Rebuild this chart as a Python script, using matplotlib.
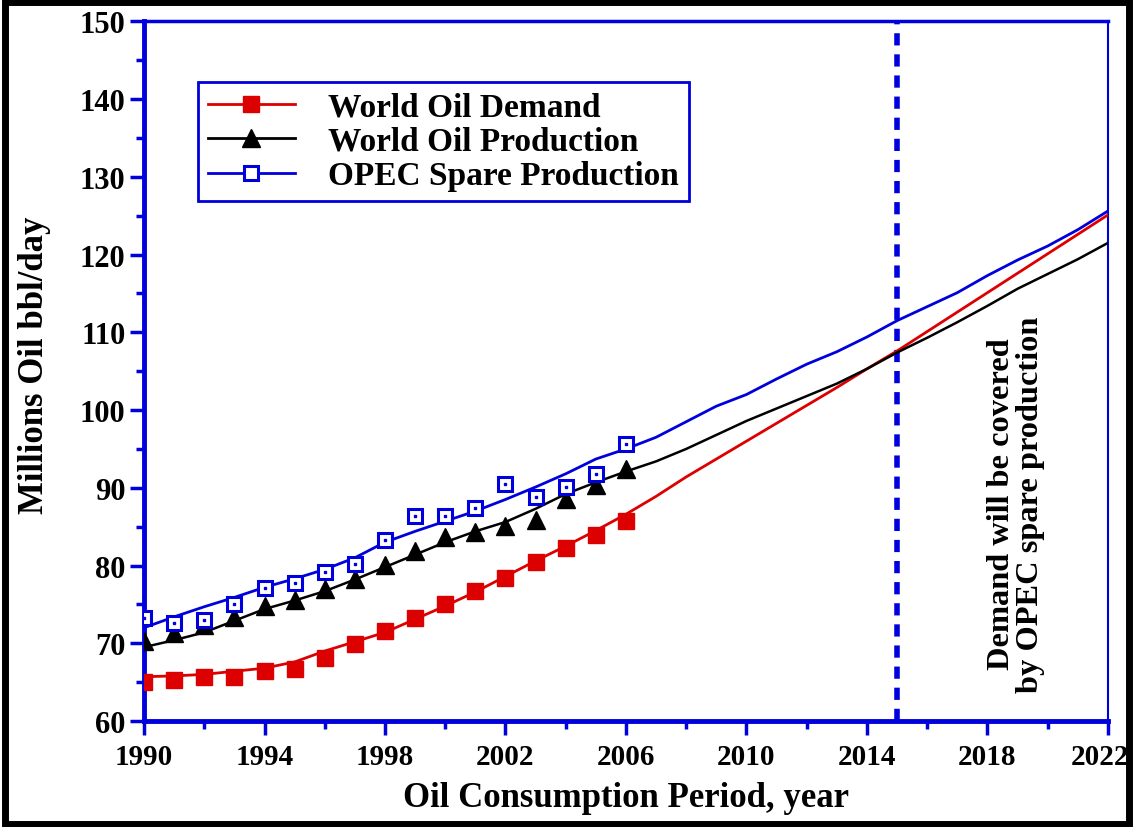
import numpy as np
import matplotlib.pyplot as plt
import matplotlib.transforms as mtransforms
from matplotlib.patches import Rectangle
from matplotlib.ticker import MultipleLocator, FixedLocator

plt.rcParams['font.family'] = ['Liberation Serif', 'DejaVu Serif']
plt.rcParams['font.weight'] = 'bold'

# observed yearly points
obs_years = list(range(1990, 2007))
demand_pts = [65.0, 65.3, 65.7, 65.7, 66.4, 66.7, 68.1, 69.9, 71.6, 73.2,
              75.0, 76.7, 78.4, 80.4, 82.2, 83.9, 85.7]
production_pts = [70.3, 71.3, 72.3, 73.4, 74.8, 75.6, 77.0, 78.3, 80.1, 81.9,
                  83.7, 84.3, 85.1, 85.8, 88.5, 90.3, 92.4]
opec_pts = [73.2, 72.6, 73.0, 75.0, 77.1, 77.7, 79.2, 80.2, 83.3, 86.4,
            86.4, 87.4, 90.5, 88.8, 90.1, 91.8, 95.6]

# fitted / forecast curves
fit_years = list(range(1990, 2023))
demand_fit = [65.7, 65.8, 66.0, 66.4, 66.8, 67.6, 69.0, 70.2, 71.4, 73.1,
              74.8, 76.6, 78.6, 80.6, 82.5, 84.5, 86.6, 88.9, 91.4, 93.7,
              96.0, 98.3, 100.6, 102.9, 105.3, 107.6, 110.1, 112.6, 115.1,
              117.6, 120.1, 122.6, 125.1]
production_fit = [69.5, 70.4, 71.4, 72.9, 74.4, 75.5, 76.7, 78.2, 79.8, 81.4,
                  83.0, 84.4, 85.6, 87.3, 89.2, 90.7, 92.1, 93.4, 95.0, 96.8,
                  98.6, 100.2, 101.8, 103.4, 105.3, 107.4, 109.3, 111.3, 113.4,
                  115.6, 117.5, 119.4, 121.5]
opec_fit = [72.0, 73.4, 74.7, 75.9, 77.2, 78.3, 79.5, 81.0, 83.0, 84.4,
            85.7, 87.0, 88.5, 90.1, 91.8, 93.7, 95.0, 96.5, 98.5, 100.5,
            102.0, 104.0, 105.9, 107.5, 109.4, 111.5, 113.3, 115.1, 117.3,
            119.3, 121.1, 123.2, 125.6]

cover_year = 2015

red = '#dd0000'
blue = '#0000dd'

fig = plt.figure(figsize=(11.34, 8.28), dpi=100)
ax = fig.add_axes([0.127, 0.128, 0.85, 0.845])

ax.plot(fit_years, demand_fit, color=red, lw=2, zorder=3)
ax.plot(fit_years, production_fit, color='black', lw=1.8, zorder=3)
ax.plot(fit_years, opec_fit, color=blue, lw=2, zorder=3)

ax.plot(obs_years, demand_pts, 's', color=red, ms=12, zorder=4)
ax.plot(obs_years, production_pts, '^', color='black', ms=13, zorder=4)
ax.plot(obs_years, opec_pts, 's', mfc='white', mec=blue, mew=2.2, ms=10.5, zorder=4)
ax.plot(obs_years, opec_pts, 's', color=blue, ms=2, zorder=5)

ax.axvline(cover_year, color=blue, lw=4, ls=(0, (2.2, 1.6)), zorder=2)

# legend proxies
h1, = ax.plot([], [], color=red, lw=2, marker='s', ms=12)
h2, = ax.plot([], [], color='black', lw=2, marker='^', ms=13)
h3, = ax.plot([], [], color=blue, lw=2, marker='s', mfc='white', mec=blue, mew=2.2, ms=10.5)
leg = ax.legend([h1, h2, h3],
                ['World Oil Demand', 'World Oil Production', 'OPEC Spare Production'],
                loc='upper left', bbox_to_anchor=(0.056, 0.914), borderaxespad=0,
                prop={'family': 'Liberation Serif', 'weight': 'bold', 'size': 24},
                fancybox=False, framealpha=1, edgecolor=blue,
                handlelength=2.6, handletextpad=1.0, borderpad=0.3, labelspacing=0.1)
leg.get_frame().set_linewidth(2)

ax.text(2018.95, 88.0, 'Demand will be covered\nby OPEC spare production',
        rotation=90, ha='center', va='center', fontsize=23.3, fontweight='bold',
        linespacing=1.0)

ax.set_xlim(1990, 2022)
ax.set_ylim(60, 150)
ax.xaxis.set_major_locator(FixedLocator(list(range(1990, 2023, 4))))
ax.xaxis.set_minor_locator(FixedLocator(list(range(1992, 2023, 4))))
ax.yaxis.set_major_locator(MultipleLocator(10))
ax.yaxis.set_minor_locator(MultipleLocator(5))

for side in ['left', 'bottom']:
    ax.spines[side].set_color(blue)
    ax.spines[side].set_linewidth(3.5)
ax.spines['top'].set_color(blue)
ax.spines['top'].set_linewidth(2.5)
ax.spines['right'].set_color(blue)
ax.spines['right'].set_linewidth(1.5)

ax.tick_params(which='major', direction='out', length=10, width=2.5, color=blue,
               labelsize=22, top=False, right=False)
ax.tick_params(axis='x', which='major', labelsize=21, pad=6)
ax.tick_params(which='minor', direction='out', length=6, width=2.5, color=blue,
               top=False, right=False)
for lab in ax.get_xticklabels() + ax.get_yticklabels():
    lab.set_fontweight('bold')
# nudge the last year label so it stays inside the frame
last = ax.get_xticklabels()[-1]
last.set_transform(last.get_transform() +
                   mtransforms.ScaledTranslation(-8 / 100, 0, fig.dpi_scale_trans))

ax.set_xlabel('Oil Consumption Period, year', fontsize=25, fontweight='bold', labelpad=8)
ax.set_ylabel('Millions Oil bbl/day', fontsize=25, fontweight='bold')
ax.yaxis.set_label_coords(-0.097, 0.51)

fig.patches.append(Rectangle((0.004, 0.004), 0.992, 0.992, transform=fig.transFigure,
                             fill=False, edgecolor='black', lw=5))

fig.savefig('out.png', dpi=100)
